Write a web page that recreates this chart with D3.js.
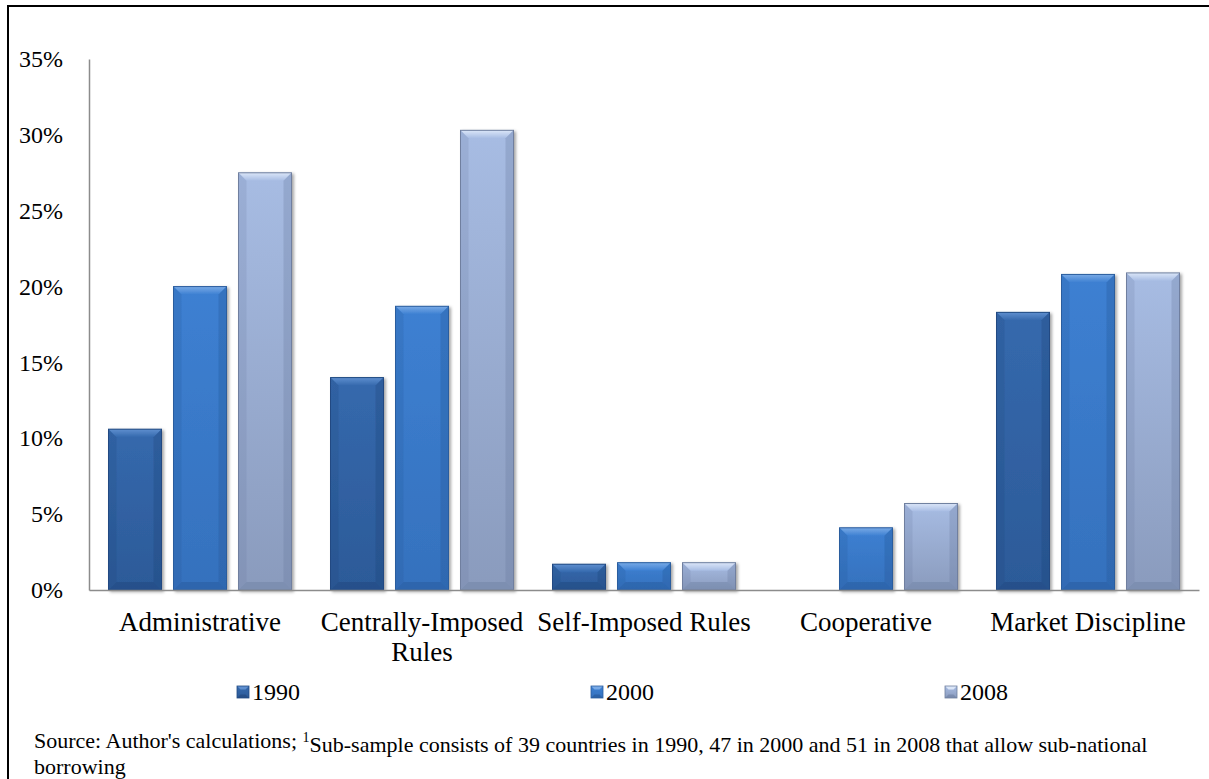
<!DOCTYPE html>
<html>
<head>
<meta charset="utf-8">
<script src="https://cdn.jsdelivr.net/npm/d3@7"></script>
<style>
  body { margin: 0; background: #fff; }
</style>
</head>
<body>
<svg id="chart" width="1209" height="779"></svg>
<script>
// Share of countries (%) by type of sub-national borrowing control
const categories = ["Administrative", "Centrally-Imposed Rules", "Self-Imposed Rules", "Cooperative", "Market Discipline"];
const years = ["1990", "2000", "2008"];
const share1990 = [10.6, 14.0, 1.7, 0, 18.3];
const share2000 = [20.0, 18.7, 1.8, 4.1, 20.8];
const share2008 = [27.5, 30.3, 1.8, 5.7, 20.9];
const yTicks = [0, 5, 10, 15, 20, 25, 30, 35];
const sourceLines = [
  "Source: Author's calculations; ",
  "Sub-sample consists of 39 countries in 1990, 47 in 2000 and 51 in 2008 that allow sub-national",
  "borrowing"
];

const seriesValues = { "1990": share1990, "2000": share2000, "2008": share2008 };
const SERIF = "'Liberation Serif', 'Times New Roman', 'DejaVu Serif', serif";

// Bevelled fill styles per series
const palette = {
  "1990": { top: "#3569ad", bottom: "#2c5a98", light: "#5f8fcf", dark: "#1d4074", edge: "#224a82" },
  "2000": { top: "#3d80d2", bottom: "#3571bd", light: "#79aae6", dark: "#21518f", edge: "#2b5d9e" },
  "2008": { top: "#a7bce3", bottom: "#8a9bbd", light: "#dbe6f8", dark: "#65779b", edge: "#6f7f9f" }
};

const svg = d3.select("#chart");
const W = 1209, H = 779;
const plotLeft = 89, plotRight = 1199, plotTop = 59, plotBottom = 590;

const defs = svg.append("defs");
const shadow = defs.append("filter").attr("id", "shadow")
  .attr("x", "-20%").attr("y", "-10%").attr("width", "150%").attr("height", "130%");
shadow.append("feDropShadow").attr("dx", 2).attr("dy", 1.5)
  .attr("stdDeviation", 1.6).attr("flood-color", "#000").attr("flood-opacity", 0.35);

years.forEach(yr => {
  const p = palette[yr];
  const body = defs.append("linearGradient").attr("id", "body" + yr)
    .attr("x1", 0).attr("y1", 0).attr("x2", 0).attr("y2", 1);
  body.append("stop").attr("offset", "0%").attr("stop-color", p.top);
  body.append("stop").attr("offset", "100%").attr("stop-color", p.bottom);
  const topG = defs.append("linearGradient").attr("id", "bevelTop" + yr)
    .attr("x1", 0).attr("y1", 0).attr("x2", 0).attr("y2", 1);
  topG.append("stop").attr("offset", "0%").attr("stop-color", p.light);
  topG.append("stop").attr("offset", "100%").attr("stop-color", p.top);
});

// Outer frame
svg.append("path")
  .attr("d", `M8,${H} L8,6 L${W},6`)
  .attr("fill", "none").attr("stroke", "#000").attr("stroke-width", 2);

// Scales
const x = d3.scaleBand().domain(categories).range([plotLeft, plotRight]).paddingInner(0).paddingOuter(0);
const xs = d3.scaleBand().domain(years)
  .range([19.5, x.bandwidth() - 19.5]).paddingInner(12 / 65).paddingOuter(0);
const y = d3.scaleLinear().domain([0, 35]).range([plotBottom, plotTop]);

// Y axis
const yAxis = svg.append("g").attr("transform", `translate(${plotLeft},0)`)
  .call(d3.axisLeft(y).tickValues(yTicks).tickSize(0).tickPadding(26).tickFormat(d => d + "%"))
  .attr("font-family", SERIF).attr("font-size", 24);
yAxis.select(".domain").attr("stroke", "#8c8c8c").attr("stroke-width", 1.5);
yAxis.selectAll("text").attr("fill", "#000");

// Bars
const rows = [];
categories.forEach((c, i) => years.forEach(yr => rows.push({ cat: c, year: yr, value: seriesValues[yr][i] })));

const bars = svg.append("g").selectAll("g.bar")
  .data(rows.filter(d => d.value > 0))
  .join("g").attr("class", "bar")
  .attr("transform", d => `translate(${x(d.cat) + xs(d.year)},${y(d.value)})`)
  .attr("filter", "url(#shadow)");

bars.each(function (d) {
  const g = d3.select(this);
  const p = palette[d.year];
  const w = xs.bandwidth();
  const h = y(0) - y(d.value);
  const b = Math.min(8, h / 2, w / 2);
  g.append("rect").attr("width", w).attr("height", h).attr("fill", `url(#body${d.year})`);
  // top bevel
  g.append("path").attr("d", `M0,0 L${w},0 L${w - b},${b} L${b},${b} Z`).attr("fill", `url(#bevelTop${d.year})`);
  // side bevels
  g.append("path").attr("d", `M0,0 L${b},${b} L${b},${h - b} L0,${h} Z`).attr("fill", p.dark).attr("opacity", 0.18);
  g.append("path").attr("d", `M${w},0 L${w - b},${b} L${w - b},${h - b} L${w},${h} Z`).attr("fill", p.dark).attr("opacity", 0.28);
  // bottom bevel
  g.append("path").attr("d", `M0,${h} L${b},${h - b} L${w - b},${h - b} L${w},${h} Z`).attr("fill", p.dark).attr("opacity", 0.35);
  g.append("rect").attr("width", w).attr("height", h).attr("fill", "none")
    .attr("stroke", p.edge).attr("stroke-width", 1);
});

// X axis (drawn after bars so the baseline sits on top)
const xAxis = svg.append("g").attr("transform", `translate(0,${plotBottom})`)
  .call(d3.axisBottom(x).tickSize(0).tickPadding(22))
  .attr("font-family", SERIF).attr("font-size", 27);
xAxis.select(".domain").attr("stroke", "#8c8c8c").attr("stroke-width", 1.5);
xAxis.selectAll("text").attr("fill", "#000")
  .each(function () { wrap(d3.select(this), x.bandwidth() - 2); });

function wrap(text, width) {
  const words = text.text().split(/\s+/);
  const yAttr = text.attr("y"), dy = parseFloat(text.attr("dy"));
  text.text(null);
  let line = [], lineNo = 0;
  let tspan = text.append("tspan").attr("x", 0).attr("y", yAttr).attr("dy", dy + "em");
  words.forEach(word => {
    line.push(word);
    tspan.text(line.join(" "));
    if (tspan.node().getComputedTextLength() > width && line.length > 1) {
      line.pop();
      tspan.text(line.join(" "));
      line = [word];
      lineNo++;
      tspan = text.append("tspan").attr("x", 0).attr("y", yAttr)
        .attr("dy", (dy + lineNo * 1.12) + "em").text(word);
    }
  });
}

// Legend
const legendX = d3.scaleBand().domain(years).range([237, 237 + 3 * 354]);
const legend = svg.append("g").attr("font-family", SERIF).attr("font-size", 24)
  .selectAll("g").data(years).join("g")
  .attr("transform", d => `translate(${legendX(d)},692)`);
legend.each(function (yr) {
  const g = d3.select(this);
  const p = palette[yr];
  const s = 12, b = 3.5;
  const m = g.append("g").attr("transform", `translate(0,${-s / 2})`);
  m.append("rect").attr("width", s).attr("height", s).attr("fill", `url(#body${yr})`);
  m.append("path").attr("d", `M0,0 L${s},0 L${s - b},${b} L${b},${b} Z`).attr("fill", p.light);
  m.append("path").attr("d", `M0,${s} L${b},${s - b} L${s - b},${s - b} L${s},${s} Z`).attr("fill", p.dark).attr("opacity", 0.5);
  m.append("rect").attr("width", s).attr("height", s).attr("fill", "none").attr("stroke", p.edge).attr("stroke-width", 0.8);
  g.append("text").attr("x", s + 3).attr("y", 0).attr("dy", "0.35em").attr("fill", "#000").text(yr);
});

// Source note
const noteG = svg.append("g").attr("font-family", SERIF).attr("font-size", 22);
const note = noteG.append("text").attr("x", 34).attr("y", 748).attr("fill", "#000");
note.append("tspan").text(sourceLines[0]);
note.append("tspan").attr("dy", "-0.45em").attr("font-size", 14).text("1");
note.append("tspan").attr("dy", "0.45em").text(sourceLines[1]);
noteG.append("text").attr("x", 34).attr("y", 774).attr("fill", "#000").text(sourceLines[2]);
</script>
</body>
</html>
